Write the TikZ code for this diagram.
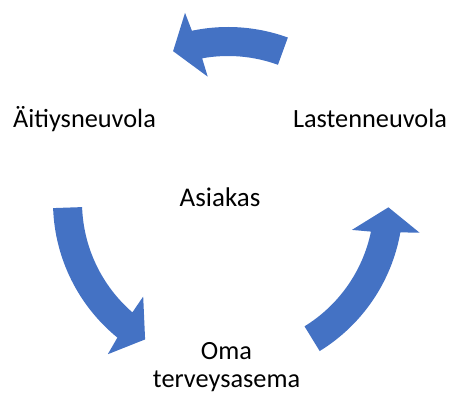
\documentclass[tikz,border=0pt]{standalone}
\usepackage{fontspec}
\setmainfont{Carlito}
\definecolor{cycleblue}{RGB}{68,114,196}
\tikzset{
  label/.style={font=\fontsize{26.3}{27}\selectfont, text=black, inner sep=0pt, anchor=base},
  hub/.style={font=\fontsize{27}{30}\selectfont, text=black, inner sep=0pt, anchor=base},
}
% curved block arrow around the centre of the cycle
% #1 tail angle, #2 head base angle
\newcommand{\cyclearrow}[2]{%
  \fill[cycleblue, shift={(228,191)}]
    (#1:175) arc[start angle=#1, end angle={#2+0.9}, radius=175]
    -- ({#2+1.8}:194) -- ({#2+9}:160.5) -- ({#2-1.8}:127)
    -- ({#2-0.8}:146) arc[start angle={#2-0.8}, end angle=#1, radius=146]
    -- cycle;}
\begin{document}
\begin{tikzpicture}[x=1pt, y=1pt]
  \useasboundingbox (0,0) rectangle (449,393);
  % arrows of the cycle
  \cyclearrow{70}{101}
  \cyclearrow{182}{229.9}
  \cyclearrow{-58.4}{-10.9}
  % labels
  \node[label] (aitiys) at (84.5,265) {Äitiysneuvola};
  \node[label] (lasten) at (370,265) {Lastenneuvola};
  \node[hub] (asiakas) at (220,186) {Asiakas};
  \node[label, align=center] (oma) at (226.5,6) {Oma\\terveysasema};
\end{tikzpicture}
\end{document}
